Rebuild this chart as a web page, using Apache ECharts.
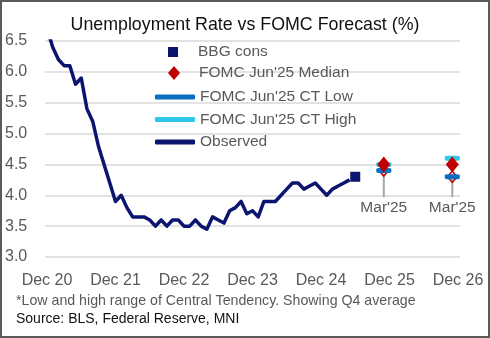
<!DOCTYPE html>
<html>
<head>
<meta charset="utf-8">
<script src="https://cdn.jsdelivr.net/npm/echarts@6/dist/echarts.min.js"></script>
<style>
  html, body { margin: 0; padding: 0; background: #fff; }
  #frame { width: 490px; height: 338px; box-sizing: border-box; border: 2px solid #5a5a5a; background: #fff; }
  #chart { width: 486px; height: 334px; }
</style>
</head>
<body>
<div id="frame"><div id="chart"></div></div>
<script>
// Month index: 0 = Dec 2020, 12 = Dec 2021, ... 72 = Dec 2026
const axisTickMonths = [0, 12, 24, 36, 48, 60, 72];
const axisTickLabels = ['Dec 20', 'Dec 21', 'Dec 22', 'Dec 23', 'Dec 24', 'Dec 25', 'Dec 26'];

// Observed unemployment rate, Dec 2020 .. May 2025 (monthly)
const observedStart = 0;
const observedRate = [
  6.7,
  6.4, 6.2, 6.1, 6.1, 5.8, 5.9, 5.4, 5.2, 4.8, 4.5, 4.2, 3.9,
  4.0, 3.8, 3.65, 3.65, 3.65, 3.6, 3.5, 3.6, 3.5, 3.6, 3.6, 3.5,
  3.5, 3.6, 3.5, 3.45, 3.65, 3.6, 3.55, 3.75, 3.8, 3.9, 3.7, 3.75,
  3.65, 3.9, 3.9, 3.9, 4.0, 4.1, 4.2, 4.2, 4.1, 4.15, 4.2, 4.1,
  4.0, 4.1, 4.15, 4.2, 4.25
];

// Bloomberg consensus for Jun 2025
const bbgMonth = [54];
const bbgCons = [4.3];

// FOMC projections, plotted at mid-Q4 (Nov) of each year
const fomcMonths = [59, 71];
const fomcJunMedian = [4.5, 4.5];
const fomcJunCtLow = [4.4, 4.3];
const fomcJunCtHigh = [4.5, 4.6];
const fomcMarMedian = [4.4, 4.3];
const fomcMarLabel = "Mar'25";

const FONT = '"Liberation Sans", Arial, sans-serif';
const NAVY = '#0b1570';
const pairs = (xs, ys) => ys.map((v, i) => [xs[i], v]);
const observedData = observedRate.map((v, i) => [observedStart + i, v]);

const chart = echarts.init(document.getElementById('chart'));

const diamondPath = 'path://M6,0 L12,7 L6,14 L0,7 Z';
const squarePath = 'path://M0,0 L10,0 L10,10 L0,10 Z';
const legendText = { color: '#595959', fontFamily: FONT, fontSize: 15.5, lineHeight: 20 };

chart.setOption({
  animation: false,
  backgroundColor: '#fff',
  textStyle: { fontFamily: FONT },
  title: {
    text: 'Unemployment Rate vs FOMC Forecast (%)',
    left: 'center',
    top: 9,
    textStyle: { fontFamily: FONT, fontSize: 17.8, fontWeight: 'normal', color: '#111' }
  },
  grid: { left: 43, right: 28, top: 39, bottom: 79 },
  xAxis: {
    type: 'value',
    min: -0.35,
    max: 72.35,
    axisLine: { show: false },
    axisTick: { show: false },
    splitLine: { show: false },
    axisLabel: {
      customValues: axisTickMonths,
      formatter: v => axisTickLabels[axisTickMonths.indexOf(Math.round(v))] || '',
      color: '#595959',
      fontFamily: FONT,
      fontSize: 16,
      margin: 16
    }
  },
  yAxis: {
    type: 'value',
    min: 3,
    max: 6.5,
    interval: 0.5,
    axisLine: { show: false },
    axisTick: { show: false },
    splitLine: { lineStyle: { color: '#d9d9d9', width: 1.5 } },
    axisLabel: {
      formatter: v => v.toFixed(1),
      color: '#595959',
      fontFamily: FONT,
      fontSize: 16,
      align: 'left',
      margin: 40
    }
  },
  legend: [
    {
      left: 161,
      top: 35,
      itemWidth: 40,
      itemHeight: 10,
      symbolKeepAspect: true,
      textStyle: legendText,
      data: [{ name: 'BBG cons', icon: squarePath }]
    },
    {
      left: 161,
      top: 56,
      itemWidth: 40,
      itemHeight: 14,
      symbolKeepAspect: true,
      textStyle: legendText,
      data: [{ name: 'FOMC Jun\'25 Median', icon: diamondPath }]
    },
    {
      orient: 'vertical',
      left: 148,
      top: 80,
      itemWidth: 40,
      itemHeight: 5,
      itemGap: 2.5,
      textStyle: legendText,
      data: [
        { name: 'FOMC Jun\'25 CT Low', icon: 'roundRect' },
        { name: 'FOMC Jun\'25 CT High', icon: 'roundRect' },
        { name: 'Observed', icon: 'roundRect' }
      ]
    }
  ],
  series: [
    {
      name: 'Observed',
      type: 'line',
      data: observedData,
      showSymbol: false,
      symbol: 'none',
      clip: true,
      color: NAVY,
      lineStyle: { color: NAVY, width: 3.5, join: 'round' }
    },
    {
      name: 'FOMC Jun\'25 CT High',
      type: 'scatter',
      data: pairs(fomcMonths, fomcJunCtHigh),
      symbol: 'roundRect',
      symbolSize: [15, 5],
      color: '#2fc6ee',
      itemStyle: { color: '#2fc6ee', opacity: 1 }
    },
    {
      name: 'FOMC Jun\'25 CT Low',
      type: 'scatter',
      data: pairs(fomcMonths, fomcJunCtLow),
      symbol: 'roundRect',
      symbolSize: [15, 5],
      color: '#0a6fc2',
      itemStyle: { color: '#0a6fc2', opacity: 1 }
    },
    {
      name: 'FOMC Mar\'25 Median',
      type: 'custom',
      data: pairs(fomcMonths, fomcMarMedian),
      renderItem: (params, api) => {
        const x = api.value(0);
        const p = api.coord([x, api.value(1)]);
        const base = api.coord([x, 3.97]);
        return {
          type: 'group',
          children: [
            {
              type: 'line',
              shape: { x1: p[0], y1: p[1], x2: p[0], y2: base[1] },
              style: { stroke: '#a6a6a6', lineWidth: 2 }
            },
            {
              type: 'polygon',
              shape: { points: [[p[0], p[1] - 5.5], [p[0] + 5, p[1]], [p[0], p[1] + 5.5], [p[0] - 5, p[1]]] },
              style: { fill: 'rgba(255,255,255,0.35)', stroke: '#c00000', lineWidth: 1.5 }
            },
            {
              type: 'text',
              x: p[0],
              y: base[1] + 3,
              style: {
                text: fomcMarLabel,
                align: 'center',
                verticalAlign: 'top',
                fill: '#595959',
                font: '15.5px ' + FONT
              }
            }
          ]
        };
      }
    },
    {
      name: 'FOMC Jun\'25 Median',
      type: 'scatter',
      data: pairs(fomcMonths, fomcJunMedian),
      symbol: 'diamond',
      symbolSize: [13, 16],
      color: '#c00000',
      itemStyle: { color: '#c00000', opacity: 1 }
    },
    {
      name: 'BBG cons',
      type: 'scatter',
      data: pairs(bbgMonth, bbgCons),
      symbol: 'rect',
      symbolSize: 10,
      color: NAVY,
      itemStyle: { color: NAVY, opacity: 1 }
    }
  ],
  graphic: [
    {
      type: 'text',
      left: 14,
      top: 292,
      style: { text: '*Low and high range of Central Tendency. Showing Q4 average', fill: '#595959', font: '14.2px ' + FONT }
    },
    {
      type: 'text',
      left: 14,
      top: 310,
      style: { text: 'Source: BLS, Federal Reserve, MNI', fill: '#111', font: '14px ' + FONT }
    }
  ]
});
</script>
</body>
</html>
